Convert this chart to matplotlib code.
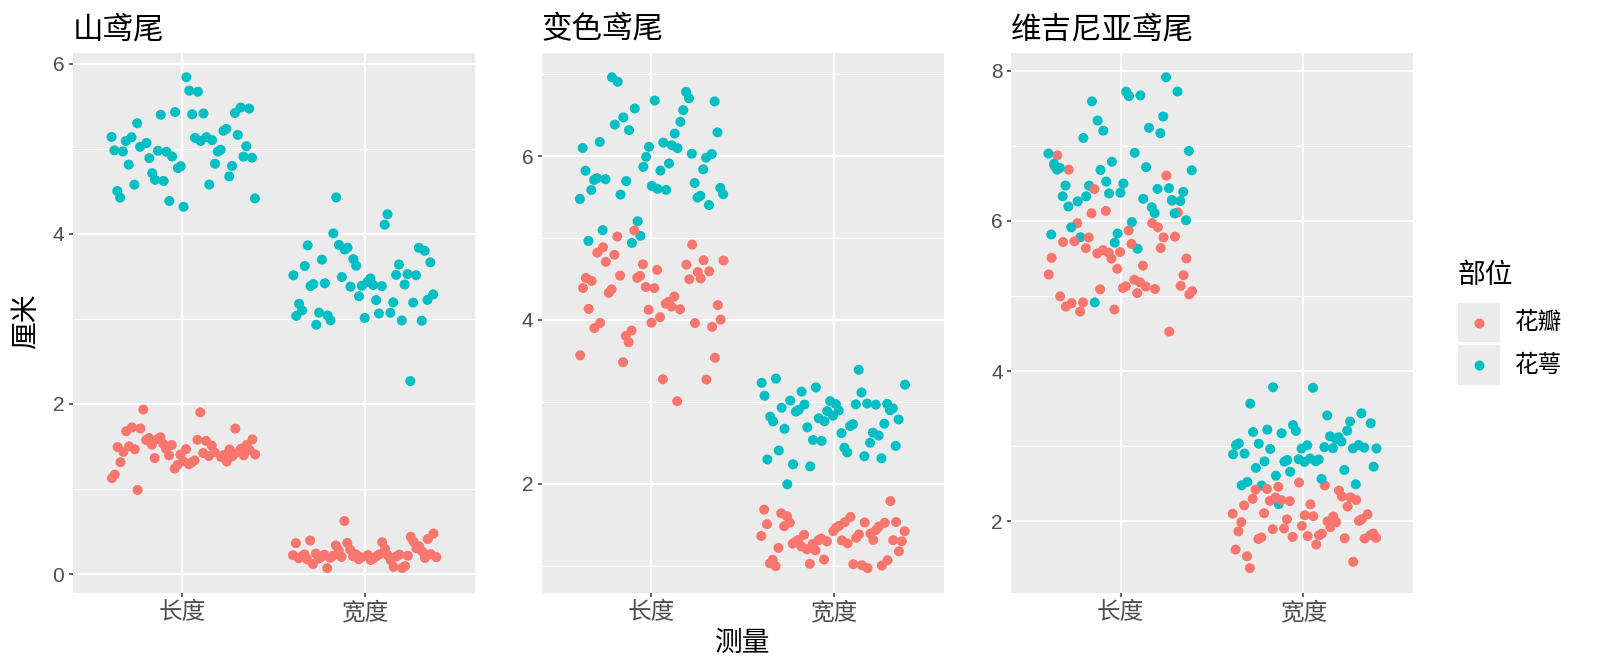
import matplotlib
matplotlib.use('Agg')
import matplotlib.pyplot as plt
import numpy as np
from matplotlib.patches import Rectangle
from matplotlib.lines import Line2D
from matplotlib.ticker import MultipleLocator

CJK = ['Noto Sans CJK SC', 'DejaVu Sans']
LAT = ['Liberation Sans', 'Noto Sans CJK SC', 'DejaVu Sans']
plt.rcParams['font.family'] = CJK

# ---------------- data (iris) ----------------
species = ['山鸢尾', '变色鸢尾', '维吉尼亚鸢尾']
measures = ['长度', '宽度']
parts = ['花瓣', '花萼']
part_colors = ['#F8766D', '#00BFC4']

sepal_length = [5.1,4.9,4.7,4.6,5.0,5.4,4.6,5.0,4.4,4.9,5.4,4.8,4.8,4.3,5.8,5.7,5.4,5.1,5.7,5.1,
                5.4,5.1,4.6,5.1,4.8,5.0,5.0,5.2,5.2,4.7,4.8,5.4,5.2,5.5,4.9,5.0,5.5,4.9,4.4,5.1,
                5.0,4.5,4.4,5.0,5.1,4.8,5.1,4.6,5.3,5.0,
                7.0,6.4,6.9,5.5,6.5,5.7,6.3,4.9,6.6,5.2,5.0,5.9,6.0,6.1,5.6,6.7,5.6,5.8,6.2,5.6,
                5.9,6.1,6.3,6.1,6.4,6.6,6.8,6.7,6.0,5.7,5.5,5.5,5.8,6.0,5.4,6.0,6.7,6.3,5.6,5.5,
                5.5,6.1,5.8,5.0,5.6,5.7,5.7,6.2,5.1,5.7,
                6.3,5.8,7.1,6.3,6.5,7.6,4.9,7.3,6.7,7.2,6.5,6.4,6.8,5.7,5.8,6.4,6.5,7.7,7.7,6.0,
                6.9,5.6,7.7,6.3,6.7,7.2,6.2,6.1,6.4,7.2,7.4,7.9,6.4,6.3,6.1,7.7,6.3,6.4,6.0,6.9,
                6.7,6.9,5.8,6.8,6.7,6.7,6.3,6.5,6.2,5.9]
sepal_width = [3.5,3.0,3.2,3.1,3.6,3.9,3.4,3.4,2.9,3.1,3.7,3.4,3.0,3.0,4.0,4.4,3.9,3.5,3.8,3.8,
               3.4,3.7,3.6,3.3,3.4,3.0,3.4,3.5,3.4,3.2,3.1,3.4,4.1,4.2,3.1,3.2,3.5,3.6,3.0,3.4,
               3.5,2.3,3.2,3.5,3.8,3.0,3.8,3.2,3.7,3.3,
               3.2,3.2,3.1,2.3,2.8,2.8,3.3,2.4,2.9,2.7,2.0,3.0,2.2,2.9,2.9,3.1,3.0,2.7,2.2,2.5,
               3.2,2.8,2.5,2.8,2.9,3.0,2.8,3.0,2.9,2.6,2.4,2.4,2.7,2.7,3.0,3.4,3.1,2.3,3.0,2.5,
               2.6,3.0,2.6,2.3,2.7,3.0,2.9,2.9,2.5,2.8,
               3.3,2.7,3.0,2.9,3.0,3.0,2.5,2.9,2.5,3.6,3.2,2.7,3.0,2.5,2.8,3.2,3.0,3.8,2.6,2.2,
               3.2,2.8,2.8,2.7,3.3,3.2,2.8,3.0,2.8,3.0,2.8,3.8,2.8,2.8,2.6,3.0,3.4,3.1,3.0,3.1,
               3.1,3.1,2.7,3.2,3.3,3.0,2.5,3.0,3.4,3.0]
petal_length = [1.4,1.4,1.3,1.5,1.4,1.7,1.4,1.5,1.4,1.5,1.5,1.6,1.4,1.1,1.2,1.5,1.3,1.4,1.7,1.5,
                1.7,1.5,1.0,1.7,1.9,1.6,1.6,1.5,1.4,1.6,1.6,1.5,1.5,1.4,1.5,1.2,1.3,1.4,1.3,1.5,
                1.3,1.3,1.3,1.6,1.9,1.4,1.6,1.4,1.5,1.4,
                4.7,4.5,4.9,4.0,4.6,4.5,4.7,3.3,4.6,3.9,3.5,4.2,4.0,4.7,3.6,4.4,4.5,4.1,4.5,3.9,
                4.8,4.0,4.9,4.7,4.3,4.4,4.8,5.0,4.5,3.5,3.8,3.7,3.9,5.1,4.5,4.5,4.7,4.4,4.1,4.0,
                4.4,4.6,4.0,3.3,4.2,4.2,4.2,4.3,3.0,4.1,
                6.0,5.1,5.9,5.6,5.8,6.6,4.5,6.3,5.8,6.1,5.1,5.3,5.5,5.0,5.1,5.3,5.5,6.7,6.9,5.0,
                5.7,4.9,6.7,4.9,5.7,6.0,4.8,4.9,5.6,5.8,6.1,6.4,5.6,5.1,5.6,6.1,5.6,5.5,4.8,5.4,
                5.6,5.1,5.1,5.9,5.7,5.2,5.0,5.2,5.4,5.1]
petal_width = [0.2,0.2,0.2,0.2,0.2,0.4,0.3,0.2,0.2,0.1,0.2,0.2,0.1,0.1,0.2,0.4,0.4,0.3,0.3,0.3,
               0.2,0.4,0.2,0.5,0.2,0.2,0.4,0.2,0.2,0.2,0.2,0.4,0.1,0.2,0.2,0.2,0.2,0.1,0.2,0.2,
               0.3,0.3,0.2,0.6,0.4,0.3,0.2,0.2,0.2,0.2,
               1.4,1.5,1.5,1.3,1.5,1.3,1.6,1.0,1.3,1.4,1.0,1.5,1.0,1.4,1.3,1.4,1.5,1.0,1.5,1.1,
               1.8,1.3,1.5,1.2,1.3,1.4,1.4,1.7,1.5,1.0,1.1,1.0,1.2,1.6,1.5,1.6,1.5,1.3,1.3,1.3,
               1.2,1.4,1.2,1.0,1.3,1.2,1.3,1.3,1.1,1.3,
               2.5,1.9,2.1,1.8,2.2,2.1,1.7,1.8,1.8,2.5,2.0,1.9,2.1,2.0,2.4,2.3,1.8,2.2,2.3,1.5,
               2.3,2.0,2.0,1.8,2.1,1.8,1.8,1.8,2.1,1.6,1.9,2.0,2.2,1.5,1.4,2.3,2.4,1.8,1.8,2.1,
               2.4,2.3,1.9,2.3,2.5,2.3,1.9,2.0,2.3,1.8]

# ---------------- layout ----------------
W, H = 1600, 671
fig = plt.figure(figsize=(16, 6.71), dpi=100)
fig.patch.set_facecolor('white')

def fx(px):
    return px / W

def fy(py):
    return 1 - py / H

panel_lefts = [72.7, 541.7, 1011.0]
pw, ptop, pbot = 402.0, 52.7, 592.7

# deterministic jitter (R2 low-discrepancy sequence)
A1, A2 = 0.7548776662466927, 0.5698402909980532
k = 0
for s in range(3):
    L = panel_lefts[s]
    ax = fig.add_axes([fx(L), fy(pbot), pw / W, (pbot - ptop) / H])
    ax.set_facecolor('#EBEBEB')
    xs, ys, cs = [], [], []
    for i in range(s * 50, s * 50 + 50):
        for m, p, v in [(0, 1, sepal_length[i]), (1, 1, sepal_width[i]),
                        (0, 0, petal_length[i]), (1, 0, petal_width[i])]:
            k += 1
            jx = ((0.5 + A1 * k) % 1 - 0.5) * 0.8
            jy = ((0.5 + A2 * k) % 1 - 0.5) * 0.08
            xs.append(m + 1 + jx)
            ys.append(v + jy)
            cs.append(part_colors[p])
    ax.scatter(xs, ys, c=cs, s=52, edgecolors='none', zorder=3)
    ymin, ymax = min(ys), max(ys)
    r = ymax - ymin
    ax.set_ylim(ymin - 0.05 * r, ymax + 0.05 * r)
    ax.set_xlim(0.4, 2.6)
    ax.set_xticks([1, 2])
    ax.set_xticklabels(measures, fontsize=17, color='#4D4D4D', family=CJK)
    ax.yaxis.set_major_locator(MultipleLocator(2))
    ax.yaxis.set_minor_locator(MultipleLocator(1))
    for lab in ax.get_yticklabels():
        lab.set_family(LAT)
    ax.tick_params(axis='y', which='major', labelsize=15, labelcolor='#4D4D4D')
    ax.tick_params(which='major', length=3, width=1.1, color='#333333', pad=3)
    ax.tick_params(which='minor', length=0)
    ax.grid(which='major', color='white', lw=1.5)
    ax.grid(which='minor', axis='y', color='white', lw=0.75)
    ax.set_axisbelow(True)
    for sp in ax.spines.values():
        sp.set_visible(False)
    for lab in ax.get_yticklabels():
        lab.set_family(LAT)
    fig.text(fx(L), fy(30), species[s], fontsize=22, ha='left', va='center', color='black')

fig.text(fx(26), fy(320), '厘米', rotation=90, fontsize=20, ha='center', va='center')
fig.text(fx(743), fy(643), '测量', fontsize=20, ha='center', va='center')

# legend
fig.text(fx(1458), fy(275), '部位', fontsize=20, ha='left', va='center')
key_tops = [302.7, 345.3]
for j in range(2):
    kt = key_tops[j]
    fig.add_artist(Rectangle((fx(1458.3), fy(kt + 39.5)), 41.7 / W, 39.5 / H,
                             transform=fig.transFigure, facecolor='#EBEBEB', edgecolor='none'))
    cy = kt + 19.8
    fig.add_artist(Line2D([fx(1479)], [fy(cy)], marker='o', ms=7.2, color=part_colors[j],
                          markeredgewidth=0, linestyle='none', transform=fig.transFigure))
    fig.text(fx(1515), fy(cy), parts[j], fontsize=17, ha='left', va='center')

fig.savefig('out.png', dpi=100)
